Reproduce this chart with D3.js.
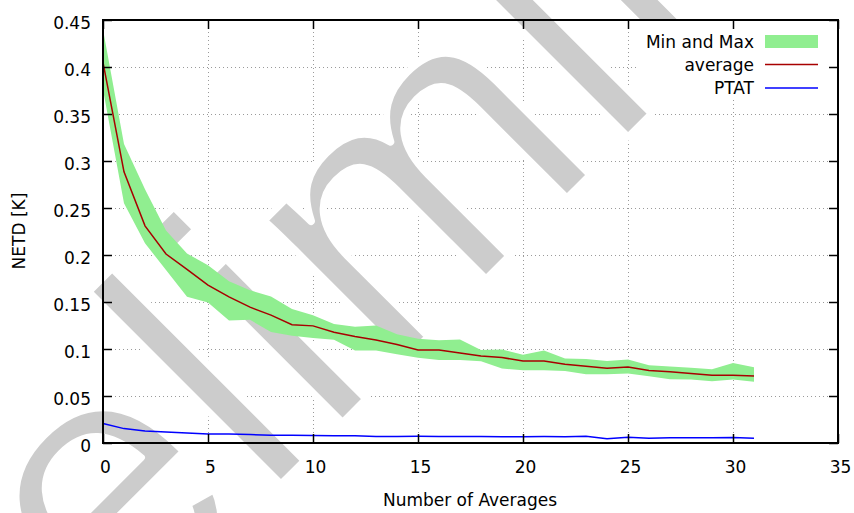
<!DOCTYPE html>
<html>
<head>
<meta charset="utf-8">
<script src="https://cdn.jsdelivr.net/npm/d3@7"></script>
<style>
body{margin:0;background:#fff;}
svg{display:block;font-family:"DejaVu Sans",sans-serif;}
</style>
</head>
<body>
<svg id="NetdGraph"></svg>
<script>
// number of averages (x)
var averages = [0,1,2,3,4,5,6,7,8,9,10,11,12,13,14,15,16,17,18,19,20,21,22,23,24,25,26,27,28,29,30,31];

var avgNetd = [0.405,0.2885,0.231,0.201,0.1846,0.168,0.1555,0.1445,0.136,0.1258,0.1246,0.1178,0.1132,0.1096,0.1048,0.099,
               0.099,0.0958,0.0926,0.0909,0.0872,0.0873,0.0838,0.0817,0.0795,0.0809,0.0772,0.0758,0.0739,0.0721,0.0721,0.0714];
var maxNetd = [0.44,0.318,0.27,0.226,0.2016,0.189,0.1722,0.1625,0.1558,0.1425,0.136,0.1265,0.1238,0.125,0.1157,0.111,
               0.1093,0.11,0.099,0.0994,0.094,0.0984,0.09,0.0893,0.0872,0.0888,0.0827,0.0815,0.08,0.0785,0.0852,0.0805];
var minNetd = [0.376,0.255,0.2125,0.184,0.1555,0.1495,0.1303,0.131,0.118,0.1141,0.1116,0.1098,0.0984,0.0983,0.0944,0.0907,
               0.0884,0.0884,0.087,0.0793,0.0774,0.0774,0.0767,0.0731,0.0731,0.0739,0.0711,0.0678,0.0675,0.0658,0.0675,0.0651];
var ptatNetd = [0.0207,0.0153,0.0128,0.0117,0.0106,0.0096,0.0095,0.009,0.0083,0.0082,0.0079,0.0078,0.0078,0.0069,0.007,0.0071,
                0.007,0.0069,0.0068,0.0067,0.0066,0.0068,0.0066,0.0071,0.0045,0.006,0.005,0.0057,0.0057,0.0057,0.0058,0.005];

var xTicks = [0,5,10,15,20,25,30,35];
var yTicks = [0,0.05,0.1,0.15,0.2,0.25,0.3,0.35,0.4,0.45];
var yTickLabels = ["0","0.05","0.1","0.15","0.2","0.25","0.3","0.35","0.4","0.45"];
var legendNames = ["Min and Max","average","PTAT"];

var initGraph = function(target)
{
    var screen = {width:854, height:513};
    var margins = {top:20, bottom:70, left:103, right:16};
    var graph = {
        width:screen.width-margins.left-margins.right,
        height:screen.height-margins.top-margins.bottom
    };

    var svg = d3.select(target)
        .attr("width",screen.width)
        .attr("height",screen.height);

    svg.append("rect")
        .attr("width",screen.width)
        .attr("height",screen.height)
        .attr("fill","white");

    var xScale = d3.scaleLinear().domain([0,35]).range([0,graph.width]);
    var yScale = d3.scaleLinear().domain([0,0.45]).range([graph.height,0]);

    // grid
    var grid = svg.append("g")
        .attr("transform","translate("+margins.left+","+margins.top+")")
        .attr("stroke","#9a9a9a")
        .attr("stroke-width",1)
        .attr("stroke-dasharray","1,3");
    grid.selectAll(".vgrid")
        .data(xTicks.slice(1,-1))
        .enter().append("line")
        .attr("x1",function(d){return xScale(d)+0.5;})
        .attr("x2",function(d){return xScale(d)+0.5;})
        .attr("y1",0).attr("y2",graph.height);
    grid.selectAll(".hgrid")
        .data(yTicks.slice(1,-1))
        .enter().append("line")
        .attr("x1",0).attr("x2",graph.width)
        .attr("y1",function(d){return Math.round(yScale(d))+0.5;})
        .attr("y2",function(d){return Math.round(yScale(d))+0.5;});

    // watermark (white outline thins the glyphs a bit)
    svg.append("text")
        .text("Preliminary")
        .attr("transform","translate(-158,923) rotate(-45)")
        .attr("fill","#cccccc")
        .attr("stroke","white")
        .attr("stroke-width",7)
        .attr("stroke-linejoin","round")
        .style("font-family","'Liberation Sans',sans-serif")
        .style("font-size","375px")
        .style("letter-spacing","4px");

    // opaque key box
    svg.append("rect")
        .attr("x",637).attr("y",margins.top)
        .attr("width",margins.left+graph.width-637)
        .attr("height",77)
        .attr("fill","white");

    var plot = svg.append("g")
        .attr("transform","translate("+margins.left+","+margins.top+")");

    var area = d3.area()
        .x(function(d,i){return xScale(averages[i]);})
        .y0(function(d,i){return yScale(minNetd[i]);})
        .y1(function(d,i){return yScale(maxNetd[i]);});
    plot.append("path")
        .datum(averages)
        .attr("d",area)
        .attr("fill","#90ee90");

    var lineGenerator = function(values){
        return d3.line()
            .x(function(d,i){return xScale(averages[i]);})
            .y(function(d){return yScale(d);})(values);
    };
    plot.append("path")
        .attr("d",lineGenerator(avgNetd))
        .attr("fill","none")
        .attr("stroke","#a80000")
        .attr("stroke-width",1.5);
    plot.append("path")
        .attr("d",lineGenerator(ptatNetd))
        .attr("fill","none")
        .attr("stroke","#0000ff")
        .attr("stroke-width",1.5);

    // axes, ticks pointing inward
    var xAxis = d3.axisBottom(xScale).tickValues(xTicks).tickSize(-9).tickSizeOuter(0).tickPadding(18);
    var yAxis = d3.axisLeft(yScale).tickValues(yTicks).tickSize(-9).tickSizeOuter(0).tickPadding(12)
        .tickFormat(function(d,i){return yTickLabels[i];});
    var xTop = d3.axisTop(xScale).tickValues(xTicks).tickSize(-9).tickSizeOuter(0).tickFormat("");
    var yRight = d3.axisRight(yScale).tickValues(yTicks).tickSize(-9).tickSizeOuter(0).tickFormat("");

    var axes = svg.append("g");
    var gx = axes.append("g")
        .attr("transform","translate("+margins.left+","+(margins.top+graph.height)+")")
        .call(xAxis);
    gx.selectAll("text").attr("dx",2);
    var gy = axes.append("g")
        .attr("transform","translate("+margins.left+","+margins.top+")")
        .call(yAxis);
    gy.selectAll("text").attr("dy","0.47em");
    axes.append("g")
        .attr("transform","translate("+margins.left+","+margins.top+")")
        .call(xTop);
    axes.append("g")
        .attr("transform","translate("+(margins.left+graph.width)+","+margins.top+")")
        .call(yRight);
    axes.selectAll(".domain").remove();
    axes.selectAll(".tick line").attr("stroke","black").attr("stroke-width",1.5);
    axes.selectAll("text")
        .style("font-family","'DejaVu Sans',sans-serif")
        .style("font-size","17px")
        .attr("fill","black");

    svg.append("rect")
        .attr("x",margins.left).attr("y",margins.top)
        .attr("width",graph.width).attr("height",graph.height)
        .attr("fill","none")
        .attr("stroke","black")
        .attr("stroke-width",2);

    // labels
    var labels = svg.append("g")
        .style("font-size","17px")
        .attr("fill","black");
    labels.append("text")
        .text("Number of Averages")
        .attr("text-anchor","middle")
        .attr("x",470)
        .attr("y",506);
    labels.append("text")
        .text("NETD [K]")
        .attr("text-anchor","middle")
        .attr("transform","translate(25,231) rotate(-90)");

    // key
    var key = svg.append("g").style("font-size","17px");
    key.selectAll("text")
        .data(legendNames)
        .enter().append("text")
        .text(function(d){return d;})
        .attr("text-anchor","end")
        .attr("x",754)
        .attr("y",function(d,i){return 48+i*23;});
    key.append("rect")
        .attr("x",765).attr("y",35)
        .attr("width",53).attr("height",13)
        .attr("fill","#90ee90");
    key.append("line")
        .attr("x1",765).attr("x2",818)
        .attr("y1",64.5).attr("y2",64.5)
        .attr("stroke","#a80000").attr("stroke-width",1.5);
    key.append("line")
        .attr("x1",765).attr("x2",818)
        .attr("y1",88).attr("y2",88)
        .attr("stroke","#0000ff").attr("stroke-width",1.5);
};

initGraph("#NetdGraph");
</script>
</body>
</html>
